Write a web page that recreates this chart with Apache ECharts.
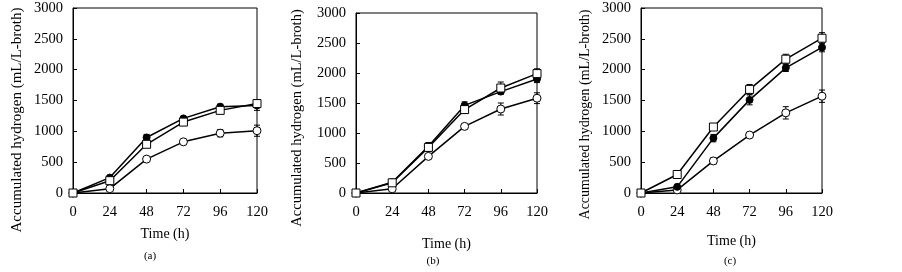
<!DOCTYPE html>
<html><head><meta charset="utf-8">
<script src="https://cdn.jsdelivr.net/npm/echarts@6/dist/echarts.min.js"></script>
<style>html,body{margin:0;padding:0;background:#fff}#c{width:902px;height:272px}</style>
</head><body><div id="c"></div>
<script>
var hours = [0, 24, 48, 72, 96, 120];
var yTicks = [0, 500, 1000, 1500, 2000, 2500, 3000];
var panelLabels = ['(a)', '(b)', '(c)'];
// Panel (a)
var aFilled = [0, 250, 900, 1210, 1400, 1420];
var aFilledErr = [0, 20, 50, 30, 40, 80];
var aSquare = [0, 200, 790, 1150, 1340, 1450];
var aSquareErr = [0, 20, 30, 30, 50, 60];
var aOpen = [0, 70, 550, 830, 970, 1010];
var aOpenErr = [0, 10, 20, 20, 60, 90];
// Panel (b)
var bFilled = [0, 180, 780, 1460, 1690, 1900];
var bFilledErr = [0, 20, 60, 60, 40, 60];
var bSquare = [0, 170, 760, 1390, 1750, 1990];
var bSquareErr = [0, 20, 70, 60, 100, 80];
var bOpen = [0, 70, 610, 1110, 1400, 1580];
var bOpenErr = [0, 10, 30, 40, 100, 90];
// Panel (c)
var cFilled = [0, 100, 890, 1510, 2030, 2360];
var cFilledErr = [0, 20, 60, 80, 60, 70];
var cSquare = [0, 300, 1070, 1680, 2170, 2510];
var cSquareErr = [0, 20, 30, 80, 80, 90];
var cOpen = [0, 50, 520, 940, 1300, 1570];
var cOpenErr = [0, 10, 50, 20, 100, 100];

var panels = [
  {filled: aFilled, fe: aFilledErr, square: aSquare, se: aSquareErr, open: aOpen, oe: aOpenErr},
  {filled: bFilled, fe: bFilledErr, square: bSquare, se: bSquareErr, open: bOpen, oe: bOpenErr},
  {filled: cFilled, fe: cFilledErr, square: cSquare, se: cSquareErr, open: cOpen, oe: cOpenErr}
];
var grids = [
  {left: 73, top: 8, width: 184, height: 185},
  {left: 356, top: 13, width: 181, height: 180},
  {left: 641, top: 8, width: 181, height: 185}
];
var yNameGaps = [48, 51, 49];
var yNameSizes = [15, 14.5, 14];
var yNameShift = [39, 30, 28];
var xNameGaps = [34, 44, 41];
var labelPos = [[145, 245.5], [428, 250.5], [725, 250.5]];
var font = 'Liberation Serif, Times New Roman, serif';

var chart = echarts.init(document.getElementById('c'));
var option = {
  animation: false,
  backgroundColor: '#fff',
  grid: grids.map(function (g) {
    return {left: g.left, top: g.top, width: g.width, height: g.height, show: true, borderColor: '#000', borderWidth: 1,
      containLabel: false, outerBoundsMode: 'none'};
  }),
  xAxis: grids.map(function (g, i) {
    return {
      type: 'value', gridIndex: i, min: 0, max: 120, interval: 24,
      name: 'Time (h)', nameLocation: 'middle', nameGap: xNameGaps[i], nameMoveOverlap: false,
      nameTextStyle: {fontFamily: font, fontSize: 14, color: '#000'},
      axisLine: {show: true, onZero: false, lineStyle: {color: '#000', width: 1}},
      axisTick: {show: true, inside: true, length: 4, lineStyle: {color: '#000'}},
      axisLabel: {fontFamily: font, fontSize: 14.5, color: '#000', margin: 12},
      splitLine: {show: false}
    };
  }),
  yAxis: grids.map(function (g, i) {
    return {
      type: 'value', gridIndex: i, min: 0, max: 3000, interval: 500,
      name: 'Accumulated hydrogen (mL/L-broth)', nameLocation: 'middle', nameGap: yNameGaps[i], nameRotate: 90, nameMoveOverlap: false,
      nameTextStyle: {fontFamily: font, fontSize: yNameSizes[i], color: '#000', padding: [0, yNameShift[i], 0, 0]},
      axisLine: {show: true, lineStyle: {color: '#000', width: 1}},
      axisTick: {show: true, inside: true, length: 4, lineStyle: {color: '#000'}},
      axisLabel: {fontFamily: font, fontSize: 14.5, color: '#000', margin: 10,
        formatter: function (v) { return yTicks.indexOf(v) >= 0 ? String(v) : ''; }},
      splitLine: {show: false}
    };
  }),
  title: panelLabels.map(function (t, i) {
    return {text: t, left: labelPos[i][0], top: labelPos[i][1], textAlign: 'center',
      textStyle: {fontFamily: font, fontSize: 11, fontWeight: 'normal', color: '#000'}};
  }),
  series: []
};

function errSeries(vals, errs, i) {
  return {
    type: 'custom', xAxisIndex: i, yAxisIndex: i, z: 1,
    data: hours.map(function (h, k) { return [h, vals[k], errs[k]]; }),
    renderItem: function (params, api) {
      var x = api.value(0), y = api.value(1), e = api.value(2);
      if (!e) return;
      var hi = api.coord([x, y + e]), lo = api.coord([x, y - e]);
      var w = 3;
      var st = {stroke: '#000', lineWidth: 1};
      return {type: 'group', children: [
        {type: 'line', shape: {x1: hi[0], y1: hi[1], x2: lo[0], y2: lo[1]}, style: st},
        {type: 'line', shape: {x1: hi[0] - w, y1: hi[1], x2: hi[0] + w, y2: hi[1]}, style: st},
        {type: 'line', shape: {x1: lo[0] - w, y1: lo[1], x2: lo[0] + w, y2: lo[1]}, style: st}
      ]};
    }
  };
}
function lineSeries(vals, i, symbol, fill, size) {
  return {
    type: 'line', xAxisIndex: i, yAxisIndex: i, z: 3,
    data: hours.map(function (h, k) { return [h, vals[k]]; }),
    symbol: symbol, symbolSize: size, showAllSymbol: true,
    lineStyle: {color: '#000', width: 1.5},
    itemStyle: {color: fill, borderColor: '#000', borderWidth: 1},
    emphasis: {disabled: true}
  };
}
panels.forEach(function (p, i) {
  option.series.push(errSeries(p.open, p.oe, i));
  option.series.push(errSeries(p.square, p.se, i));
  option.series.push(errSeries(p.filled, p.fe, i));
  option.series.push(lineSeries(p.open, i, 'circle', '#fff', 8));
  option.series.push(lineSeries(p.filled, i, 'circle', '#000', 7));
  option.series.push(lineSeries(p.square, i, 'rect', '#fff', 8));
});
chart.setOption(option);
</script></body></html>
